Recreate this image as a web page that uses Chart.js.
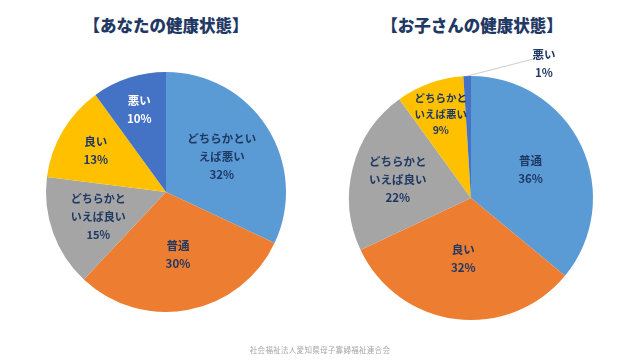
<!DOCTYPE html>
<html><head><meta charset="utf-8">
<script src="https://cdn.jsdelivr.net/npm/chart.js@4/dist/chart.umd.min.js"></script>
<style>
html,body{margin:0;padding:0;background:#fff;}
#wrap{position:relative;width:640px;height:360px;overflow:hidden;font-family:"Noto Sans CJK JP",sans-serif;}
.box{position:absolute;top:0;width:320px;height:360px;}
.title{position:absolute;top:14px;font-size:16.5px;font-weight:900;color:#1F3864;white-space:nowrap;transform:translateX(-50%);line-height:22px;}
#foot{position:absolute;left:320px;top:344px;transform:translateX(-50%);font-size:7.5px;color:#a6a6a6;white-space:nowrap;letter-spacing:0.3px;}
</style></head>
<body><div id="wrap">
<div class="title" style="left:166px">【あなたの健康状態】</div>
<div class="title" style="left:472px">【お子さんの健康状態】</div>
<div class="box" style="left:0"><canvas id="c1" width="320" height="360"></canvas></div>
<div class="box" style="left:320px"><canvas id="c2" width="320" height="360"></canvas></div>
<div id="foot">社会福祉法人愛知県母子寡婦福祉連合会</div>
</div>
<script>
// Data
const selfCategories = [['どちらかとい','えば悪い'], ['普通'], ['どちらかと','いえば良い'], ['良い'], ['悪い']];
const selfValues = [32, 30, 15, 13, 10];
const childCategories = [['普通'], ['良い'], ['どちらかと','いえば良い'], ['どちらかと','いえば悪い'], ['悪い']];
const childValues = [36, 32, 22, 9, 1];

const selfColors = ['#5B9BD5', '#ED7D31', '#A5A5A5', '#FFC000', '#4472C4'];
const childColors = ['#5B9BD5', '#ED7D31', '#A5A5A5', '#FFC000', '#4472C4'];

const labelPlugin = {
  id: 'sliceLabels',
  afterDatasetsDraw(chart, args, opts) {
    const ctx = chart.ctx;
    const meta = chart.getDatasetMeta(0);
    const ds = chart.data.datasets[0];
    meta.data.forEach((arc, i) => {
      const p = arc.getProps(['x','y','startAngle','endAngle','outerRadius'], true);
      const cfg = opts.slices[i] || {};
      const lines = [].concat(chart.data.labels[i], ds.data[i] + '%');
      let ang = (p.startAngle + p.endAngle) / 2;
      let f = cfg.f || 0.55;
      let lx, ly;
      if (cfg.outside) {
        const a2 = -Math.PI/2 + cfg.angleDeg * Math.PI/180;
        lx = p.x + Math.cos(a2) * p.outerRadius * f;
        ly = p.y + Math.sin(a2) * p.outerRadius * f;
        const ex = p.x + Math.cos(ang) * p.outerRadius;
        const ey = p.y + Math.sin(ang) * p.outerRadius;
        ctx.save();
        ctx.strokeStyle = '#BFBFBF';
        ctx.lineWidth = 0.8;
        ctx.beginPath();
        ctx.moveTo(ex, ey);
        ctx.lineTo(lx - 11, ly - 5);
        ctx.stroke();
        ctx.restore();
      } else {
        lx = p.x + Math.cos(ang) * p.outerRadius * f;
        ly = p.y + Math.sin(ang) * p.outerRadius * f;
      }
      const fs = cfg.size || 11.5;
      const lh = cfg.lh || 18;
      ctx.save();
      ctx.fillStyle = cfg.color || '#1F3864';
      ctx.font = 'bold ' + fs + 'px "Noto Sans CJK JP", sans-serif';
      ctx.textAlign = 'center';
      ctx.textBaseline = 'middle';
      const n = lines.length;
      lines.forEach((t, k) => {
        ctx.fillText(t, lx, ly + (k - (n - 1) / 2) * lh);
      });
      ctx.restore();
    });
  }
};

function makePie(id, labels, values, colors, padding, slices) {
  return new Chart(document.getElementById(id), {
    type: 'pie',
    data: { labels: labels, datasets: [{ data: values, backgroundColor: colors, borderWidth: 0 }] },
    options: {
      responsive: false,
      animation: false,
      layout: { padding: padding },
      plugins: { legend: { display: false }, tooltip: { enabled: false }, sliceLabels: { slices: slices } }
    },
    plugins: [labelPlugin]
  });
}

makePie('c1', selfCategories, selfValues, selfColors,
  { left: 46, right: 34, top: 72, bottom: 48 },
  [ { f: 0.55 }, { f: 0.53 }, { f: 0.6, size: 11 }, { f: 0.68 }, { f: 0.72, color: '#FFFFFF' } ]);

makePie('c2', childCategories, childValues, childColors,
  { left: 29, right: 47, top: 76, bottom: 40 },
  [ { f: 0.54 }, { f: 0.5 }, { f: 0.62 }, { f: 0.73, size: 10.5, lh: 16 }, { outside: true, angleDeg: 28.6, f: 1.25, lh: 18 } ]);
</script>
</body></html>
